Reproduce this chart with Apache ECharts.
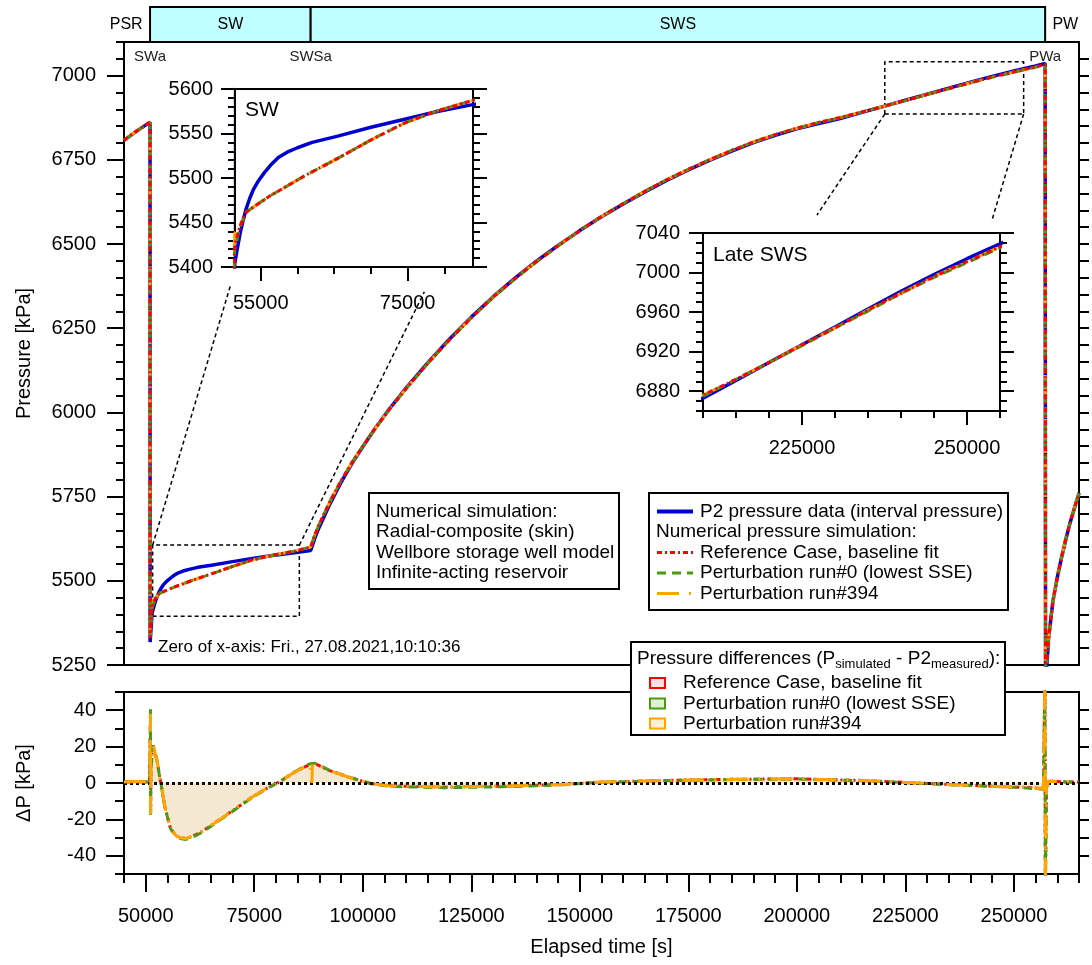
<!DOCTYPE html>
<html><head><meta charset="utf-8">
<script src="https://cdn.jsdelivr.net/npm/echarts@6/dist/echarts.min.js"></script>
<style>html,body{margin:0;padding:0;background:#fff}#c{width:1092px;height:965px}</style>
</head><body><div id="c"></div>
<script>
// ---------------- DATA ----------------
const xMajorTicks = [50000, 75000, 100000, 125000, 150000, 175000, 200000, 225000, 250000];
const pMajorTicks = [5250, 5500, 5750, 6000, 6250, 6500, 6750, 7000];
const dpMajorTicks = [-40, -20, 0, 20, 40];
const swXTicks = [55000, 75000];
const swYTicks = [5400, 5450, 5500, 5550, 5600];
const lateXTicks = [225000, 250000];
const lateYTicks = [6880, 6920, 6960, 7000, 7040];

const phases = [
  {name: 'PSR', start: 40000, end: 51000, box: false},
  {name: 'SW', start: 51000, end: 88000, box: true},
  {name: 'SWS', start: 88000, end: 257200, box: true},
  {name: 'PW', start: 257200, end: 266500, box: false}
];
const events = [
  {name: 'SWa', t: 51000},
  {name: 'SWSa', t: 88000},
  {name: 'PWa', t: 257200}
];

// P2 measured interval pressure
const measTime = [45000, 48000, 51000, 51020, 51470, 51800, 52200, 52600, 53000, 53500,
  54000, 54700, 55500, 56300, 57400, 58600, 60000, 62000, 65500, 70000,
  74600, 79200, 84200, 88000, 89000, 90000, 92500, 95000, 97500, 100000,
  103000, 106000, 110000, 115000, 120000, 125000, 130000, 135000, 140000, 145000,
  150000, 155000, 160000, 165000, 170000, 175000, 180000, 185000, 190000, 195000,
  200000, 205000, 210000, 215000, 220000, 225000, 230000, 235000, 240000, 245000,
  250000, 255000, 257200, 257300, 257600, 258000, 259000, 260000, 261000, 262000,
  263000, 264000, 265000];
const measP = [6808, 6836, 6862, 5318, 5404, 5420, 5438, 5452, 5465, 5477,
  5487, 5497, 5506, 5514, 5523, 5529, 5534, 5540, 5547, 5557,
  5566, 5575, 5583, 5590, 5628, 5660, 5730, 5792, 5848, 5898,
  5955, 6008, 6073, 6148, 6218, 6283, 6343, 6398, 6449, 6496,
  6540, 6581, 6619, 6655, 6689, 6720, 6749, 6776, 6801, 6823,
  6842, 6858, 6873, 6891, 6909, 6927, 6945, 6963, 6981, 6998,
  7014, 7029, 7036, 5100, 5250, 5330, 5440, 5510, 5570, 5625,
  5675, 5718, 5760];

// simulations
const simTime = [45000, 48000, 51000, 51020, 51470, 52160, 53080, 54460, 56290, 58590,
  60880, 65480, 70060, 74650, 79240, 84200, 88000, 89000, 90000, 92500,
  95000, 97500, 100000, 103000, 106000, 110000, 115000, 120000, 125000, 130000,
  135000, 140000, 145000, 150000, 155000, 160000, 165000, 170000, 175000, 180000,
  185000, 190000, 195000, 200000, 205000, 210000, 215000, 220000, 225000, 230000,
  235000, 240000, 245000, 250000, 255000, 257200, 257300, 257600, 258000, 259000,
  260000, 261000, 262000, 263000, 264000, 265000];
const refSimP = [6808.5, 6836.5, 6862.5, 5330, 5425, 5446, 5462, 5470, 5480, 5491,
  5502, 5522, 5543, 5562, 5576, 5588, 5600, 5638, 5669, 5737,
  5797, 5851, 5899, 5955, 6007, 6071, 6146, 6216, 6281, 6342,
  6397, 6448, 6495, 6540, 6582, 6620, 6657, 6691, 6722, 6751,
  6778, 6803, 6825, 6844, 6861, 6876, 6892, 6909, 6927, 6944,
  6962, 6979, 6996, 7011, 7026, 7033, 5120, 5260, 5331, 5441,
  5511, 5571, 5626, 5676, 5719, 5761];
const run0SimP = [6808.5, 6836.5, 6862.5, 5340, 5420, 5445, 5462, 5470, 5480, 5491,
  5502, 5522, 5543, 5562, 5576, 5588, 5600, 5638, 5669, 5737,
  5797, 5851, 5899, 5955, 6006, 6071, 6146, 6216, 6281, 6341,
  6396, 6447, 6494, 6540, 6582, 6620, 6657, 6691, 6722, 6751,
  6778, 6803, 6825, 6844, 6861, 6875, 6892, 6909, 6926, 6944,
  6961, 6979, 6995, 7010, 7025, 7033, 5120, 5260, 5331, 5441,
  5511, 5571, 5626, 5676, 5719, 5761];
const run394SimP = [6808.5, 6836.5, 6862.5, 5335, 5438, 5447, 5462, 5470, 5480, 5491,
  5502, 5522, 5543, 5562, 5576, 5588, 5600, 5638, 5669, 5737,
  5797, 5851, 5899, 5955, 6007, 6071, 6146, 6216, 6281, 6342,
  6397, 6448, 6495, 6540, 6582, 6620, 6657, 6691, 6722, 6751,
  6778, 6803, 6825, 6844, 6861, 6876, 6892, 6909, 6927, 6944,
  6962, 6979, 6996, 7011, 7026, 7033, 5120, 5260, 5331, 5441,
  5511, 5571, 5626, 5676, 5719, 5761];

// pressure differences (simulated - measured)
const dpTime = [45000, 48000, 50900, 51100, 51130, 51200, 51500, 51750, 52200, 52620,
  53100, 53490, 54390, 55700, 57010, 58000, 59220, 60500, 62300, 65820,
  70220, 74630, 78000, 80360, 84320, 87840, 88200, 88300, 88400, 89150,
  92240, 96650, 101920, 106340, 118650, 131860, 145070, 153880, 171480, 185000,
  200000, 215000, 225000, 235000, 245000, 252000, 256800, 257150, 257250, 257500,
  258000, 262000, 265000];
const dpRef = [0.5, 0.8, 0.5, 36, -16, 5, 19, 20.5, 16, 12.4,
  5, 0, -13, -25, -29, -30.2, -30.5, -29.5, -27.6, -22.1,
  -14.9, -7.6, -2.8, 0, 6, 10.2, 10, 10.3, 10.4, 10.5,
  6.9, 3.3, -0.3, -1.6, -2.2, -1.8, -0.9, 0.4, 1.5, 2,
  2.3, 1.4, 0.3, -0.8, -1.8, -2.4, -3, 60, -60, -3,
  1, 0.6, 0.5];
const dpRun0 = [0.5, 0.8, 0.5, 40.5, -18.5, 5, 19, 20.5, 16, 12.4,
  5, 0, -13, -25, -29.5, -30.5, -31, -30, -28, -22.5,
  -15.2, -7.8, -2.9, 0, 6.2, 10.6, 10.4, 10.6, 10.7, 10.8,
  7.1, 3.4, -0.4, -1.9, -2.6, -2.1, -1.1, 0.3, 1.4, 1.9,
  2.2, 1.3, 0.2, -0.9, -1.9, -2.6, -3.4, 60, -60, -3,
  1, 0.6, 0.5];
const dpRun394 = [0.5, 0.8, 0.5, 38, -17, 5, 19.5, 20.8, 16.2, 12.6,
  5, 0, -13, -25, -29, -30.2, -30.5, -29.5, -27.6, -22.1,
  -14.9, -7.6, -2.8, 0, 6, 10.2, 10, 0, 10.4, 10.5,
  6.9, 3.3, -0.3, -1.6, -2.2, -1.8, -0.9, 0.4, 1.5, 2,
  2.3, 1.4, 0.3, -0.8, -1.8, -2.4, -3, 60, -60, -3,
  1, 0.6, 0.5];

// ---------------- LAYOUT / STYLE ----------------
const FONT = "'Liberation Sans', Arial, sans-serif";
const C_BLUE = '#0000d0', C_RED = '#ff0000', C_GREEN = '#4a9a12', C_ORANGE = '#ffa500';
const DASH_RED = [5, 3, 2, 3], DASH_GREEN = [9, 6], DASH_ORANGE = [22, 10, 2, 10];
const mainX = [45000, 265000], mainY = [5250, 7100], dpY = [-50, 50];
const swX = [51500, 83900], swY = [5400, 5600];
const lateX = [210000, 255000], lateY = [6860, 7040];

// zoom-region annotations (main-panel data coordinates)
const swRect = {x: [51600, 85400], y: [5395, 5606]};
const lateRect = {x: [220260, 252250], y: [6886, 7041]};
const connectors = [
  [[51600, 5606], [69551, 6378]],
  [[85400, 5606], [114190, 6358]],
  [[220260, 6886], [204615, 6586]],
  [[252250, 6886], [244886, 6568]]
];

function seq(a, b, s) { const r = []; for (let v = a; v <= b + 1e-9; v += s) r.push(Math.round(v)); return r; }
function minus(a, b) { return a.filter(v => !b.includes(v)); }
function zip(t, v) { return t.map((x, i) => [x, v[i]]); }

function axis(o) {
  if (o.hidden) return {type: 'value', gridIndex: o.grid, min: o.min, max: o.max, show: false};
  const a = {
    type: 'value', gridIndex: o.grid, position: o.pos, min: o.min, max: o.max,
    axisLine: {show: false, onZero: false}, splitLine: {show: false},
    axisTick: o.ticks ? {show: true, inside: false, length: o.len, customValues: o.ticks, lineStyle: {color: '#000', width: 2}} : {show: false},
    axisLabel: o.labels ? {show: true, customValues: o.labels, margin: o.margin, fontSize: 20, color: '#000',
      fontFamily: FONT, formatter: v => String(v)} : {show: false}
  };
  if (o.name) {
    a.name = o.name; a.nameLocation = 'middle'; a.nameGap = o.nameGap;
    a.nameTextStyle = {fontSize: 20, color: '#000', fontFamily: FONT};
  }
  return a;
}

const xAxes = [
  axis({grid: 0, pos: 'bottom', min: mainX[0], max: mainX[1]}),
  axis({grid: 1, pos: 'bottom', min: mainX[0], max: mainX[1], ticks: xMajorTicks, len: 18, labels: xMajorTicks, margin: 32, name: 'Elapsed time [s]', nameGap: 63}),
  axis({grid: 1, pos: 'bottom', min: mainX[0], max: mainX[1], ticks: minus(seq(45000, 265000, 5000), xMajorTicks), len: 9}),
  axis({grid: 2, pos: 'bottom', min: swX[0], max: swX[1], ticks: swXTicks, len: 14, labels: swXTicks, margin: 26}),
  axis({grid: 2, pos: 'bottom', min: swX[0], max: swX[1], ticks: minus(seq(55000, 80000, 5000), swXTicks), len: 7}),
  axis({grid: 3, pos: 'bottom', min: lateX[0], max: lateX[1], ticks: lateXTicks, len: 14, labels: lateXTicks, margin: 27}),
  axis({grid: 3, pos: 'bottom', min: lateX[0], max: lateX[1], ticks: minus(seq(210000, 255000, 5000), lateXTicks), len: 7}),
  axis({grid: 4, hidden: true, min: mainX[0], max: mainX[1]})
];
const yAxes = [
  axis({grid: 0, pos: 'left', min: mainY[0], max: mainY[1], ticks: pMajorTicks, len: 17, labels: pMajorTicks, margin: 28, name: 'Pressure [kPa]', nameGap: 90}),
  axis({grid: 0, pos: 'left', min: mainY[0], max: mainY[1], ticks: minus(seq(5250, 7100, 50), pMajorTicks), len: 8}),
  axis({grid: 0, pos: 'right', min: mainY[0], max: mainY[1], ticks: seq(5300, 7050, 50), len: 10}),
  axis({grid: 0, pos: 'right', hidden: true, min: mainY[0], max: mainY[1]}),
  axis({grid: 1, pos: 'left', min: dpY[0], max: dpY[1], ticks: dpMajorTicks, len: 18, labels: dpMajorTicks, margin: 28, name: '\u0394P [kPa]', nameGap: 90}),
  axis({grid: 1, pos: 'left', min: dpY[0], max: dpY[1], ticks: minus(seq(-50, 50, 10), dpMajorTicks), len: 9}),
  axis({grid: 1, pos: 'right', min: dpY[0], max: dpY[1], ticks: seq(-40, 40, 10), len: 10}),
  axis({grid: 1, pos: 'right', hidden: true, min: dpY[0], max: dpY[1]}),
  axis({grid: 2, pos: 'left', min: swY[0], max: swY[1], ticks: swYTicks, len: 14, labels: swYTicks, margin: 22}),
  axis({grid: 2, pos: 'left', min: swY[0], max: swY[1], ticks: minus(seq(5400, 5600, 10), swYTicks), len: 7}),
  axis({grid: 2, pos: 'right', min: swY[0], max: swY[1], ticks: swYTicks, len: 14}),
  axis({grid: 2, pos: 'right', min: swY[0], max: swY[1], ticks: minus(seq(5400, 5600, 10), swYTicks), len: 7}),
  axis({grid: 3, pos: 'left', min: lateY[0], max: lateY[1], ticks: lateYTicks, len: 14, labels: lateYTicks, margin: 23}),
  axis({grid: 3, pos: 'left', min: lateY[0], max: lateY[1], ticks: minus(seq(6860, 7040, 10), lateYTicks), len: 7}),
  axis({grid: 3, pos: 'right', min: lateY[0], max: lateY[1], ticks: lateYTicks, len: 14}),
  axis({grid: 3, pos: 'right', min: lateY[0], max: lateY[1], ticks: minus(seq(6860, 7040, 10), lateYTicks), len: 7}),
  axis({grid: 4, hidden: true, min: 0, max: 1})
];

const border = {show: true, borderColor: '#000', borderWidth: 2, backgroundColor: '#fff'};
const grids = [
  Object.assign({left: 124, top: 42, width: 955, height: 623}, border),
  Object.assign({left: 124, top: 692, width: 955, height: 182}, border),
  Object.assign({left: 235, top: 89, width: 238, height: 178, z: 5}, border),
  Object.assign({left: 703, top: 233, width: 297, height: 178, z: 5}, border),
  {left: 124, top: 7, width: 955, height: 35, show: false}
];

function line(xi, yi, t, v, color, width, dash, z) {
  return {type: 'line', xAxisIndex: xi, yAxisIndex: yi, data: zip(t, v), showSymbol: false, symbol: 'none',
    lineStyle: {color: color, width: width, type: dash}, z: z, silent: true, animation: false};
}
function pressureSet(xi, yi, z) {
  return [
    line(xi, yi, measTime, measP, C_BLUE, 3.5, 'solid', z),
    line(xi, yi, simTime, run394SimP, C_ORANGE, 3, DASH_ORANGE, z + 1),
    line(xi, yi, simTime, run0SimP, C_GREEN, 3, DASH_GREEN, z + 2),
    line(xi, yi, simTime, refSimP, C_RED, 3, DASH_RED, z + 3)
  ];
}
function dash(points, z) {
  return {type: 'line', xAxisIndex: 0, yAxisIndex: 0, data: points, showSymbol: false, symbol: 'none',
    lineStyle: {color: '#000', width: 1.5, type: [4, 3]}, z: z || 2, silent: true, animation: false};
}
function rectPts(r) { return [[r.x[0], r.y[0]], [r.x[1], r.y[0]], [r.x[1], r.y[1]], [r.x[0], r.y[1]], [r.x[0], r.y[0]]]; }

const series = [].concat(
  pressureSet(0, 0, 2),
  pressureSet(3, 8, 10),
  pressureSet(5, 12, 10),
  [
    dash(rectPts(swRect)), dash(rectPts(lateRect)),
    ...connectors.map(c => dash(c))
  ],
  [
    Object.assign(line(1, 4, dpTime, dpRef, C_RED, 3, DASH_RED, 3), {areaStyle: {color: 'rgba(255,0,0,0.06)'},
      markLine: {silent: true, symbol: ['none', 'none'], label: {show: false},
        lineStyle: {color: '#000', width: 3, type: [3, 3]}, data: [{yAxis: 0}]}}),
    Object.assign(line(1, 4, dpTime, dpRun0, C_GREEN, 3, DASH_GREEN, 4), {areaStyle: {color: 'rgba(80,160,20,0.08)'}}),
    Object.assign(line(1, 4, dpTime, dpRun394, C_ORANGE, 3, DASH_ORANGE, 5), {areaStyle: {color: 'rgba(255,165,0,0.12)'}})
  ],
  [
    {type: 'custom', xAxisIndex: 7, yAxisIndex: 16, clip: false, z: 6, silent: true,
      data: phases.map(p => [p.start, p.end]), encode: {x: [0, 1]},
      renderItem: function (params, api) {
        const ph = phases[params.dataIndex];
        const p0 = api.coord([ph.start, 1]), p1 = api.coord([ph.end, 0]);
        const ch = [];
        if (ph.box) ch.push({type: 'rect', shape: {x: p0[0], y: p0[1], width: p1[0] - p0[0], height: p1[1] - p0[1]},
          style: {fill: '#c0ffff', stroke: '#000', lineWidth: 2}});
        ch.push({type: 'text', x: (p0[0] + p1[0]) / 2, y: (p0[1] + p1[1]) / 2,
          style: {text: ph.name, fontSize: 16, fontFamily: FONT, fill: '#000', align: 'center', verticalAlign: 'middle'}});
        return {type: 'group', children: ch};
      }},
    {type: 'custom', xAxisIndex: 0, yAxisIndex: 0, clip: false, z: 6, silent: true,
      data: events.map(e => [e.t]), encode: {x: 0},
      renderItem: function (params, api) {
        const e = events[params.dataIndex];
        const p = api.coord([e.t, mainY[1]]);
        return {type: 'text', x: p[0], y: p[1] + 15,
          style: {text: e.name, fontSize: 15, fontFamily: FONT, fill: '#222', align: 'center', verticalAlign: 'middle'}};
      }}
  ]
);

// ---------------- GRAPHIC (text boxes / legends) ----------------
function txt(x, y, s, size, extra) {
  return Object.assign({type: 'text', x: x, y: y, z: 101,
    style: {text: s, fontSize: size, fontFamily: FONT, fill: '#000', align: 'left', verticalAlign: 'middle'}}, extra || {});
}
function box(x, y, w, h) {
  return {type: 'rect', z: 100, shape: {x: x, y: y, width: w, height: h}, style: {fill: '#fff', stroke: '#000', lineWidth: 2}};
}
function sample(y, color, dashArr, w) {
  return {type: 'line', z: 101, shape: {x1: 657, y1: y, x2: 693, y2: y},
    style: {stroke: color, lineWidth: w, lineDash: dashArr}};
}
function square(y, stroke, fill) {
  return {type: 'rect', z: 101, shape: {x: 650, y: y - 5, width: 15, height: 10}, style: {fill: fill, stroke: stroke, lineWidth: 2}};
}

const graphics = [
  box(369, 493, 250, 96),
  txt(376, 511.5, 'Numerical simulation:', 19),
  txt(376, 532, 'Radial-composite (skin)', 19),
  txt(376, 552.5, 'Wellbore storage well model', 19),
  txt(376, 573, 'Infinite-acting reservoir', 19),

  box(649, 493, 359, 117),
  sample(511.5, C_BLUE, null, 4),
  txt(700, 511.5, 'P2 pressure data (interval pressure)', 19),
  txt(656, 532, 'Numerical pressure simulation:', 19),
  sample(552.5, C_RED, DASH_RED, 3),
  txt(700, 552.5, 'Reference Case, baseline fit', 19),
  sample(573, C_GREEN, DASH_GREEN, 3),
  txt(700, 573, 'Perturbation run#0 (lowest SSE)', 19),
  sample(593.5, C_ORANGE, DASH_ORANGE, 3),
  txt(700, 593.5, 'Perturbation run#394', 19),

  box(631, 642, 374, 93),
  {type: 'text', x: 637, y: 659, z: 101, style: {
    text: '{n|Pressure differences (P}{s|simulated}{n| - P2}{s|measured}{n|):}',
    verticalAlign: 'middle', align: 'left',
    rich: {
      n: {fontSize: 19, fontFamily: FONT, fill: '#000', lineHeight: 24, verticalAlign: 'middle'},
      s: {fontSize: 13, fontFamily: FONT, fill: '#000', lineHeight: 12, verticalAlign: 'bottom'}
    }}},
  square(683, C_RED, '#ffe0e0'),
  txt(683, 683, 'Reference Case, baseline fit', 19),
  square(703.5, C_GREEN, '#e2efd6'),
  txt(683, 703.5, 'Perturbation run#0 (lowest SSE)', 19),
  square(723.5, C_ORANGE, '#fff0d6'),
  txt(683, 723.5, 'Perturbation run#394', 19),

  txt(158, 647, 'Zero of x-axis: Fri., 27.08.2021,10:10:36', 17),
  txt(245, 110, 'SW', 21),
  txt(713, 255, 'Late SWS', 21)
];

const chart = echarts.init(document.getElementById('c'), null, {renderer: 'canvas'});
chart.setOption({
  animation: false,
  backgroundColor: '#fff',
  textStyle: {fontFamily: FONT},
  grid: grids,
  xAxis: xAxes,
  yAxis: yAxes,
  series: series,
  graphic: {elements: graphics}
});
</script>
</body></html>
